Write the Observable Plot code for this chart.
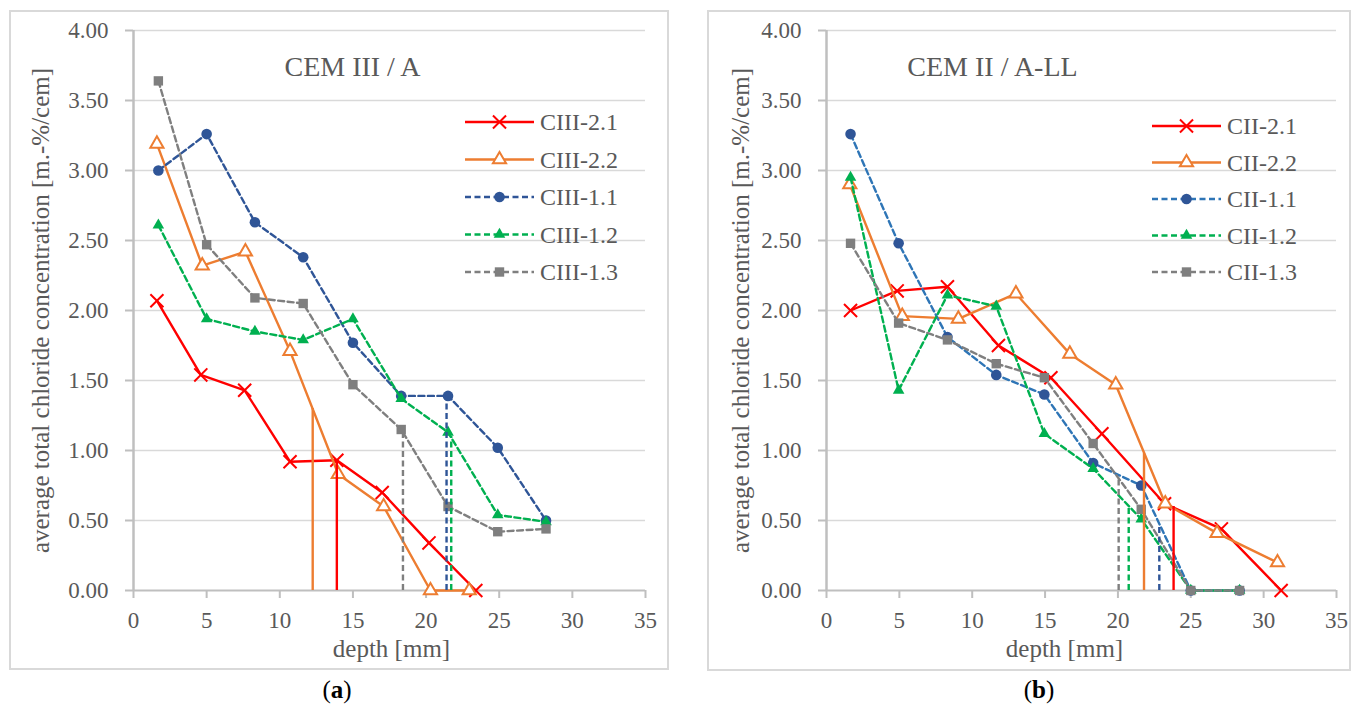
<!DOCTYPE html>
<html>
<head>
<meta charset="utf-8">
<script src="https://cdn.jsdelivr.net/npm/d3@7"></script>
<script src="https://cdn.jsdelivr.net/npm/@observablehq/plot@0.6"></script>
<style>
  html, body { margin: 0; padding: 0; background: #ffffff; }
  body { width: 1358px; height: 707px; position: relative; overflow: hidden;
         font-family: 'Liberation Serif', 'Times New Roman', serif; }
  .panel { position: absolute; top: 0; width: 679px; height: 707px; }
  .box { position: absolute; border: 2px solid #d9d9d9; box-sizing: border-box; pointer-events: none; }
  .cap { position: absolute; width: 80px; text-align: center; font-size: 25px; color: #000; line-height: 1; }
</style>
</head>
<body>
<div id="pa" class="panel" style="left:0px"></div>
<div id="pb" class="panel" style="left:679px"></div>
<div class="box" style="left:9px; top:10px; width:660px; height:660px;"></div>
<div class="box" style="left:707px; top:10px; width:644px; height:661px;"></div>
<div class="cap" style="left:297px; top:677px;">(<b>a</b>)</div>
<div class="cap" style="left:999px; top:677px;">(<b>b</b>)</div>
<script>
// ---------- axis ticks ----------
const xTicks = [0, 5, 10, 15, 20, 25, 30, 35];
const yTicks = [0, 0.5, 1, 1.5, 2, 2.5, 3, 3.5, 4];
const yTickLabels = ["0.00", "0.50", "1.00", "1.50", "2.00", "2.50", "3.00", "3.50", "4.00"];
const xLabel = "depth [mm]";
const yLabel = "average total chloride concentration [m.-%/cem]";

// ---------- panel (a): CEM III / A ----------
const titleA = "CEM III / A";
const namesA = ["CIII-2.1", "CIII-2.2", "CIII-1.1", "CIII-1.2", "CIII-1.3"];
const xA21 = [1.6, 4.6, 7.6, 10.7, 13.9, 17.0, 20.2, 23.4];
const yA21 = [2.07, 1.54, 1.43, 0.92, 0.93, 0.70, 0.34, 0.00];
const xA22 = [1.6, 4.7, 7.65, 10.7, 14.0, 17.1, 20.3, 22.95];
const yA22 = [3.19, 2.32, 2.42, 1.71, 0.83, 0.60, 0.00, 0.00];
const xA11 = [1.7, 5.0, 8.3, 11.6, 15.0, 18.3, 21.5, 24.9, 28.2];
const yA11 = [3.00, 3.26, 2.63, 2.38, 1.77, 1.39, 1.39, 1.02, 0.50];
const xA12 = [1.7, 5.0, 8.3, 11.6, 15.0, 18.3, 21.5, 24.9, 28.2];
const yA12 = [2.61, 1.94, 1.85, 1.79, 1.94, 1.37, 1.13, 0.54, 0.49];
const xA13 = [1.7, 5.0, 8.3, 11.6, 15.0, 18.3, 21.5, 24.9, 28.2];
const yA13 = [3.64, 2.47, 2.09, 2.05, 1.47, 1.15, 0.60, 0.42, 0.44];
// penetration-depth drop lines: depth and level where they meet the profile
const dropXA = [13.9, 12.25, 21.4, 21.72, 18.42];
const dropYA = [0.93, 1.30, 1.39, 1.10, 1.15];

// ---------- panel (b): CEM II / A-LL ----------
const titleB = "CEM II / A-LL";
const namesB = ["CII-2.1", "CII-2.2", "CII-1.1", "CII-1.2", "CII-1.3"];
const xB21 = [1.65, 4.85, 8.3, 11.8, 15.4, 18.9, 23.2, 27.1, 31.2];
const yB21 = [2.00, 2.14, 2.17, 1.75, 1.52, 1.12, 0.62, 0.44, 0.00];
const xB22 = [1.6, 5.2, 9.05, 13.0, 16.7, 19.85, 23.25, 26.8, 30.95];
const yB22 = [2.90, 1.96, 1.94, 2.12, 1.69, 1.47, 0.62, 0.41, 0.20];
const xB11 = [1.65, 4.95, 8.3, 11.65, 14.95, 18.3, 21.6, 25.0, 28.35];
const yB11 = [3.26, 2.48, 1.81, 1.54, 1.40, 0.91, 0.75, 0.00, 0.00];
const xB12 = [1.65, 4.95, 8.3, 11.65, 14.95, 18.3, 21.6, 25.0, 28.35];
const yB12 = [2.95, 1.43, 2.11, 2.03, 1.12, 0.87, 0.51, 0.00, 0.00];
const xB13 = [1.65, 4.95, 8.3, 11.65, 14.95, 18.3, 21.6, 25.0, 28.35];
const yB13 = [2.48, 1.91, 1.79, 1.62, 1.52, 1.05, 0.58, 0.00, 0.00];
const dropXB = [23.82, 21.79, 22.84, 20.74, 20.05];
const dropYB = [0.60, 0.98, 0.47, 0.60, 0.80];

// ---------- styles ----------
const INK = "#595959";
const FONT = "'Liberation Serif', 'Times New Roman', serif";
const styleA = [
  {line: "#ff0000", mark: "#ff0000", drop: "#ff0000", dash: null, symbol: "times", r: 6},
  {line: "#ed7d31", mark: "#ed7d31", drop: "#ed7d31", dash: null, symbol: "triangle2", r: 6.3},
  {line: "#2f5597", mark: "#2f5597", drop: "#2f5597", dash: "6,3.5", symbol: "circle", r: 5.3},
  {line: "#00b050", mark: "#00b050", drop: "#00b050", dash: "6,3.5", symbol: "triangle", r: 4.3},
  {line: "#7f7f7f", mark: "#7f7f7f", drop: "#7f7f7f", dash: "6,3.5", symbol: "square", r: 5.3}
];
const styleB = [
  {line: "#ff0000", mark: "#ff0000", drop: "#ff0000", dash: null, symbol: "times", r: 6},
  {line: "#ed7d31", mark: "#ed7d31", drop: "#ed7d31", dash: null, symbol: "triangle2", r: 6.3},
  {line: "#2e75b6", mark: "#2f5597", drop: "#2f5597", dash: "6,3.5", symbol: "circle", r: 5.3},
  {line: "#00b050", mark: "#00b050", drop: "#00b050", dash: "6,3.5", symbol: "triangle", r: 4.3},
  {line: "#7f7f7f", mark: "#7f7f7f", drop: "#7f7f7f", dash: "6,3.5", symbol: "square", r: 5.3}
];
const d3Symbols = {times: d3.symbolTimes, triangle2: d3.symbolTriangle2, circle: d3.symbolCircle,
                   triangle: d3.symbolTriangle, square: d3.symbolSquare};

function rows(xs, ys) { return xs.map((x, i) => ({x, y: ys[i]})); }

function makePanel(cfg) {
  const marks = [
    Plot.ruleY(yTicks.filter(d => d > 0), {y: d => d, stroke: "#d9d9d9", strokeWidth: 1.5}),
    Plot.ruleX([0], {x: d => d, stroke: "#bfbfbf", strokeWidth: 2.5}),
    Plot.ruleY([0], {y: d => d, stroke: "#bfbfbf", strokeWidth: 2}),
    Plot.axisY({ticks: yTicks, tickSize: 8, tickPadding: 17,
      tickFormat: d => yTickLabels[yTicks.indexOf(d)], fontFamily: FONT,
      fontSize: 23, fill: INK, stroke: "#bfbfbf", strokeWidth: 2, label: null}),
    Plot.axisX({ticks: xTicks, tickSize: 8, tickPadding: 13, tickFormat: d => String(d),
      fontFamily: FONT, fontSize: 23, fill: INK, stroke: "#bfbfbf", strokeWidth: 2, label: null}),
    Plot.text([xLabel], {frameAnchor: "bottom", dy: 66, dx: cfg.xlabelDx, text: d => d,
      fontFamily: FONT, fontSize: 25, fill: INK, textAnchor: "middle"}),
    Plot.text([yLabel], {frameAnchor: "left", dx: cfg.ylabelDx, rotate: -90, text: d => d,
      fontFamily: FONT, fontSize: 25, fill: INK, textAnchor: "middle"}),
    Plot.text([cfg.title], {frameAnchor: "top-left", dx: cfg.titleDx, dy: 45, lineAnchor: "bottom",
      textAnchor: "middle", text: d => d, fontFamily: FONT, fontSize: 28, fill: INK})
  ];
  cfg.series.forEach((s, i) => {
    const st = cfg.styles[i];
    const data = rows(s.x, s.y);
    marks.push(Plot.line(data, {x: "x", y: "y", stroke: st.line, strokeWidth: 2.4,
      strokeDasharray: st.dash || undefined}));
    const filled = st.symbol === "circle" || st.symbol === "triangle" || st.symbol === "square";
    marks.push(Plot.dot(data, {x: "x", y: "y", symbol: () => st.symbol, r: st.r,
      fill: filled ? st.mark : (st.symbol === "triangle2" ? "#ffffff" : "none"),
      stroke: filled ? "none" : st.mark, strokeWidth: 2}));
  });
  const drops = cfg.dropX.map((x, i) => ({x, y: cfg.dropY[i], i}));
  drops.forEach(d => {
    const st = cfg.styles[d.i];
    marks.push(Plot.ruleX([d], {x: "x", y1: 0, y2: "y", stroke: st.drop, strokeWidth: 2.4,
      strokeDasharray: st.dash || undefined}));
  });

  const svg = Plot.plot({
    width: 679, height: 707,
    marginLeft: cfg.marginLeft, marginRight: cfg.marginRight, marginTop: 30, marginBottom: 117,
    x: {domain: [0, 35], axis: null},
    y: {domain: [0, 4], axis: null},
    style: {fontFamily: FONT, background: "transparent", overflow: "visible"},
    marks
  });

  // legend
  const g = d3.select(svg).append("g").attr("text-anchor", "start");
  cfg.names.forEach((name, i) => {
    const st = cfg.styles[i];
    const yy = cfg.legend.y0 + i * cfg.legend.dy;
    g.append("line").attr("x1", cfg.legend.x1).attr("x2", cfg.legend.x2)
      .attr("y1", yy).attr("y2", yy).attr("stroke", st.line).attr("stroke-width", 2.4)
      .attr("stroke-dasharray", st.dash || null);
    const filled = st.symbol === "circle" || st.symbol === "triangle" || st.symbol === "square";
    g.append("path")
      .attr("d", d3.symbol(d3Symbols[st.symbol], Math.PI * st.r * st.r)())
      .attr("transform", `translate(${(cfg.legend.x1 + cfg.legend.x2) / 2},${yy})`)
      .attr("fill", filled ? st.mark : (st.symbol === "triangle2" ? "#ffffff" : "none"))
      .attr("stroke", filled ? "none" : st.mark).attr("stroke-width", 2);
    g.append("text").attr("x", cfg.legend.tx).attr("y", yy).attr("dy", "0.34em")
      .attr("text-anchor", "start")
      .attr("font-size", 24).attr("fill", INK).attr("font-family", FONT).text(name);
  });
  return svg;
}

document.getElementById("pa").appendChild(makePanel({
  title: titleA, names: namesA, styles: styleA,
  series: [{x: xA21, y: yA21}, {x: xA22, y: yA22}, {x: xA11, y: yA11}, {x: xA12, y: yA12}, {x: xA13, y: yA13}],
  dropX: dropXA, dropY: dropYA,
  marginLeft: 133, marginRight: 34, titleDx: 219, ylabelDx: -93, xlabelDx: 2,
  legend: {x1: 465, x2: 534, tx: 540, y0: 122, dy: 37.5}
}));
document.getElementById("pb").appendChild(makePanel({
  title: titleB, names: namesB, styles: styleB,
  series: [{x: xB21, y: yB21}, {x: xB22, y: yB22}, {x: xB11, y: yB11}, {x: xB12, y: yB12}, {x: xB13, y: yB13}],
  dropX: dropXB, dropY: dropYB,
  marginLeft: 147, marginRight: 22, titleDx: 166, ylabelDx: -86, xlabelDx: -17,
  legend: {x1: 473, x2: 542, tx: 548, y0: 126, dy: 36.5}
}));
</script>
</body>
</html>
